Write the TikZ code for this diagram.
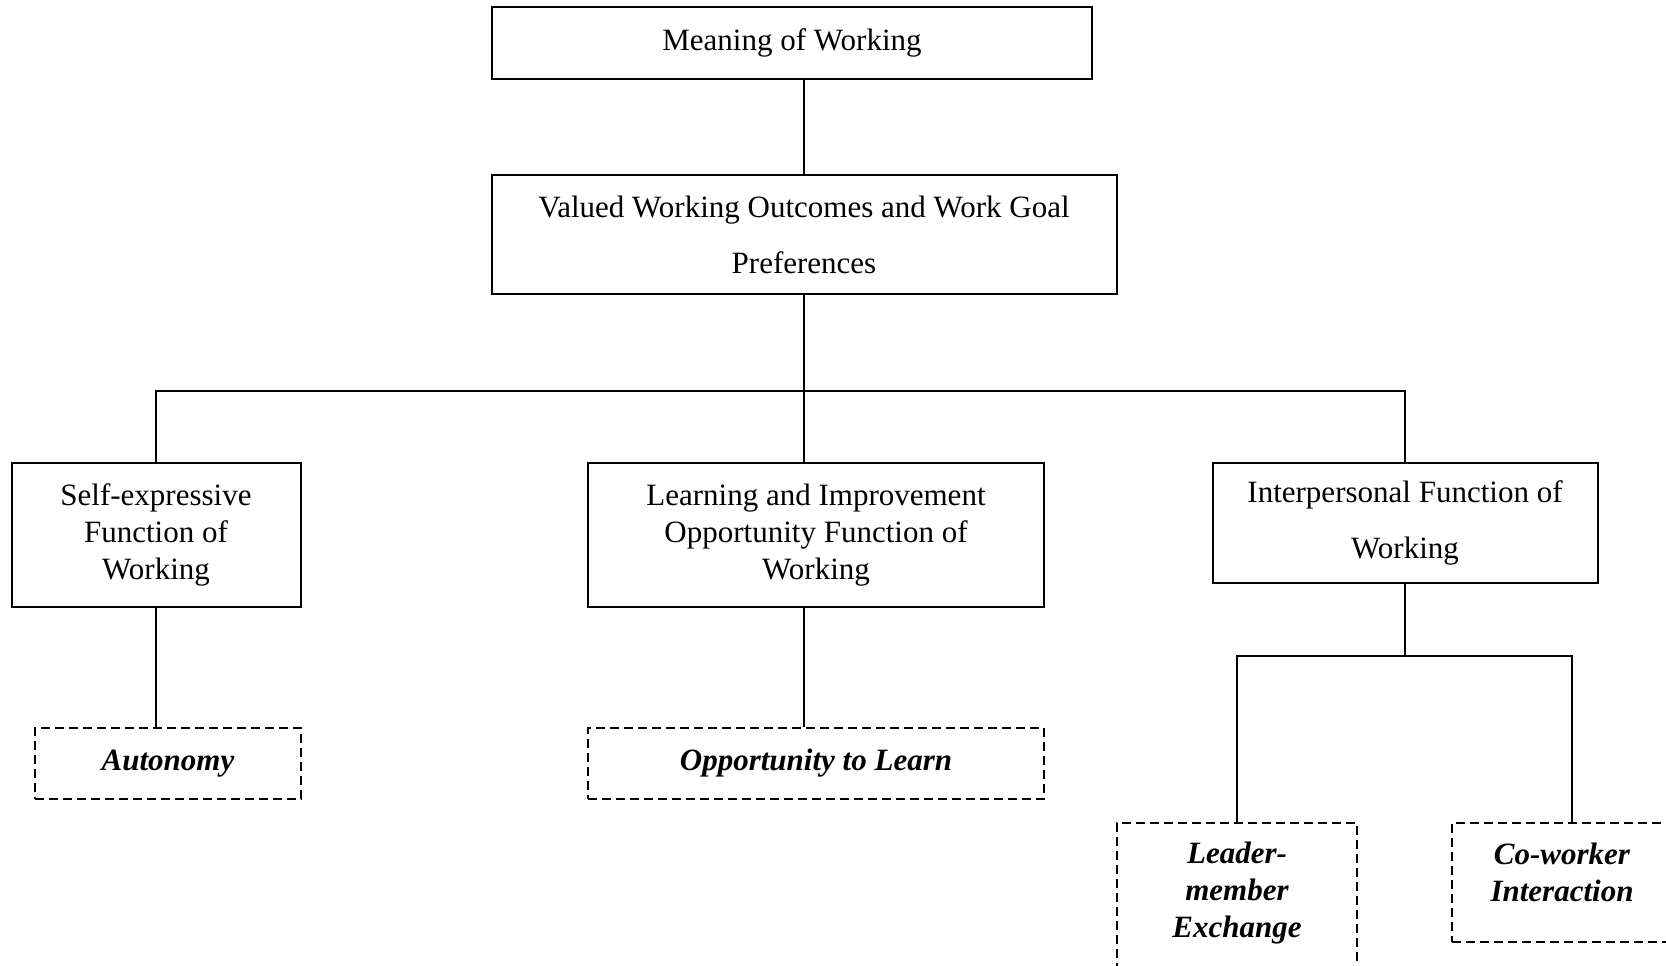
\documentclass[tikz,border=0pt]{standalone}
\usepackage{fontspec}
\setmainfont{Liberation Serif}
\begin{document}
\begin{tikzpicture}[x=1pt,y=-1pt,
    box/.style={draw,line width=2pt,align=center,inner sep=0pt,
      font=\fontsize{31}{37}\selectfont},
    wide/.style={font=\fontsize{31}{56}\selectfont},
    var/.style={box,dash pattern=on 9pt off 5pt,
      font=\fontsize{31}{37}\selectfont\bfseries\itshape},
    link/.style={line width=2pt}]
  \clip (0,0) rectangle (1666,966);
  % upper levels
  \draw
    (792,43) node[box,minimum width=600,minimum height=72] (meaning){Meaning of Working}
    (804,234.5) node[box,wide,minimum width=625,minimum height=119] (valued){Valued Working Outcomes and Work Goal\\Preferences};
  % the three functions
  \draw
    (156,535) node[box,minimum width=289,minimum height=144] (self){Self-expressive\\Function of\\Working}
    (816,535) node[box,minimum width=456,minimum height=144] (learn){Learning and Improvement\\Opportunity Function of\\Working}
    (1405,523) node[box,wide,minimum width=385,minimum height=120] (inter){Interpersonal Function of\\Working};
  % dashed boxes
  \draw
    (168,763.5) node[var,minimum width=266,minimum height=71] (auto){Autonomy}
    (816,763.5) node[var,minimum width=456,minimum height=71] (opp){Opportunity to Learn}
    (1237,898) node[var,minimum width=240,minimum height=150,text depth=16pt] (leader){Leader-\\member\\Exchange}
    (1562,882.5) node[var,minimum width=220,minimum height=119,text depth=21pt] (cowork){Co-worker\\Interaction};
  \coordinate (split) at (804,391);
  \coordinate (fork) at (1405,656);
  \coordinate (cw) at (1572,823);
  \begin{scope}[link]
    \draw (valued.north) -- (valued.north |- meaning.south);
    \draw (valued.south) -- (split);
    \draw (self.north) |- (split) -| (inter.north);
    \draw (split) -- (split |- learn.north);
    \draw (self.south) -- (self.south |- auto.north);
    \draw (split |- learn.south) -- (split |- opp.north);
    \draw (inter.south) -- (fork);
    \draw (leader.north) |- (fork) -| (cw);
  \end{scope}
\end{tikzpicture}
\end{document}
